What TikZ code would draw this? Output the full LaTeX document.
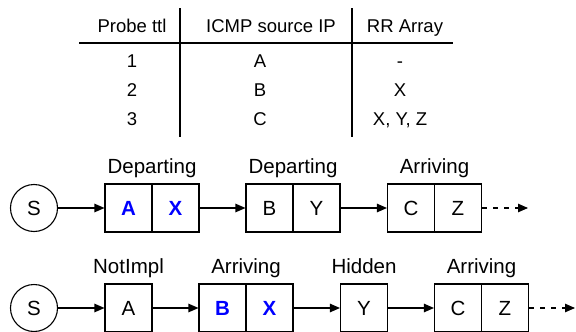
\documentclass[tikz,border=0pt]{standalone}
\usepackage{fontspec}
\setmainfont{Liberation Sans}
\usetikzlibrary{arrows.meta}

\begin{document}
\begin{tikzpicture}[x=1pt, y=-1pt, line width=1.1pt, >={Triangle[length=10pt,width=8.5pt]}]
	\tikzstyle{every node} = [inner sep=0pt]
	\tikzstyle{head} = [anchor=base, font=\fontsize{18.5}{22}\selectfont]
	\tikzstyle{cell} = [draw, rectangle, minimum width=47pt, minimum height=48pt, font=\fontsize{20.5}{24}\selectfont]
	\tikzstyle{hit} = [cell, text=blue, font=\fontsize{20.5}{24}\selectfont\bfseries]
	\tikzstyle{src} = [draw, circle, minimum size=47pt, font=\fontsize{20.5}{24}\selectfont]
	\tikzstyle{state} = [anchor=base, font=\fontsize{20.5}{24}\selectfont]
	\useasboundingbox (0,0) rectangle (576,332);
	% table
	\node[head] (ttl) at (132, 32) {Probe ttl};
	\node[head] (icmp) at (271, 32) {ICMP source IP};
	\node[head] (rr) at (405, 32) {RR Array};
	\node[head] (ttl1) at (132, 67) {1};
	\node[head] (icmp1) at (260, 67) {A};
	\node[head] (rr1) at (400, 67) {-};
	\node[head] (ttl2) at (132, 96) {2};
	\node[head] (icmp2) at (260, 96) {B};
	\node[head] (rr2) at (400, 96) {X};
	\node[head] (ttl3) at (132, 125) {3};
	\node[head] (icmp3) at (260, 125) {C};
	\node[head] (rr3) at (400, 125) {X, Y, Z};
	\draw (79, 43) -- (453, 43);
	\draw (180, 8) -- (180, 137);
	\draw (352, 8) -- (352, 137);
	% first trace
	\node[src] (S1) at (34, 208) {S};
	\node[hit] (A1) at (128.5, 208) {A};
	\node[hit] (X1) at (175.5, 208) {X};
	\node[cell] (B1) at (269.5, 208) {B};
	\node[cell] (Y1) at (316.5, 208) {Y};
	\node[cell] (C1) at (411, 208) {C};
	\node[cell] (Z1) at (458, 208) {Z};
	\coordinate (end1) at (528, 208);
	\node[state] (dep1) at (152, 173) {Departing};
	\node[state] (dep2) at (293, 173) {Departing};
	\node[state] (arr1) at (434.5, 173) {Arriving};
	\draw [->] (S1)--(A1);
	\draw [->] (X1)--(B1);
	\draw [->] (Y1)--(C1);
	\draw [->, dash pattern=on 5pt off 6pt] (Z1)--(end1);
	% second trace
	\node[src] (S2) at (34, 308) {S};
	\node[cell] (A2) at (128.5, 308) {A};
	\node[hit] (B2) at (222.5, 308) {B};
	\node[hit] (X2) at (269.5, 308) {X};
	\node[cell] (Y2) at (364, 308) {Y};
	\node[cell] (C2) at (458, 308) {C};
	\node[cell] (Z2) at (505, 308) {Z};
	\coordinate (end2) at (575, 308);
	\node[state] (nim) at (128.5, 273) {NotImpl};
	\node[state] (arr2) at (246, 273) {Arriving};
	\node[state] (hid) at (364, 273) {Hidden};
	\node[state] (arr3) at (481.5, 273) {Arriving};
	\draw [->] (S2)--(A2);
	\draw [->] (A2)--(B2);
	\draw [->] (X2)--(Y2);
	\draw [->] (Y2)--(C2);
	\draw [->, dash pattern=on 5pt off 6pt] (Z2)--(end2);
\end{tikzpicture}
\end{document}
